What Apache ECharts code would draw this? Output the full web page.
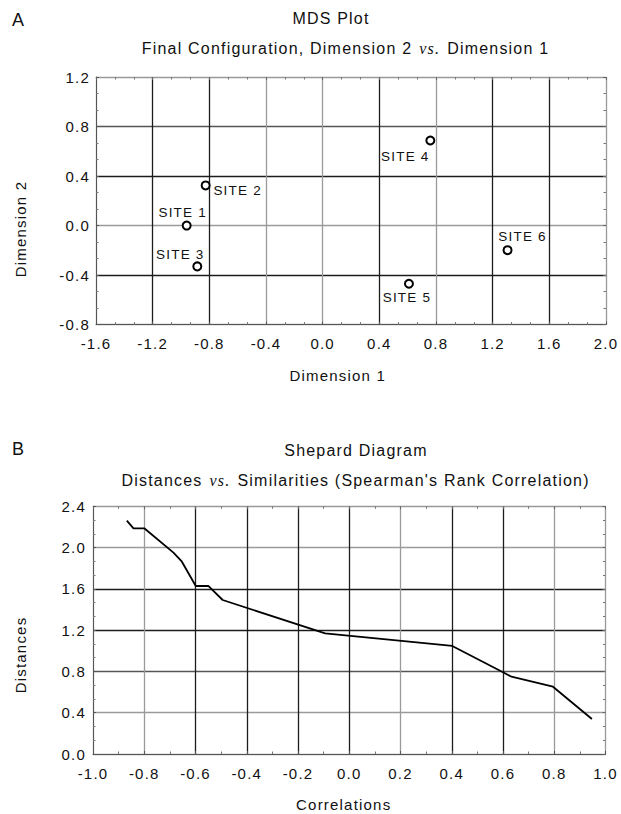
<!DOCTYPE html>
<html>
<head>
<meta charset="utf-8">
<script src="https://cdn.jsdelivr.net/npm/echarts@6/dist/echarts.min.js"></script>
<style>
html,body{margin:0;padding:0;background:#fff;}
#chart{width:621px;height:814px;letter-spacing:1.2px;}
</style>
</head>
<body>
<div id="chart"></div>
<script>
// ---------- Panel A: MDS plot (final configuration) ----------
const siteNames = ['SITE 1', 'SITE 2', 'SITE 3', 'SITE 4', 'SITE 5', 'SITE 6'];
const dimension1 = [-0.96, -0.826, -0.885, 0.76, 0.609, 1.305];
const dimension2 = [0.0, 0.324, -0.33, 0.687, -0.47, -0.199];
const dim1Ticks = [-1.6, -1.2, -0.8, -0.4, 0.0, 0.4, 0.8, 1.2, 1.6, 2.0];
const dim2Ticks = [-0.8, -0.4, 0.0, 0.4, 0.8, 1.2];

// ---------- Panel B: Shepard diagram ----------
const correlations = [-0.868, -0.842, -0.800, -0.686, -0.653, -0.599, -0.550, -0.494, -0.094, 0.402, 0.600, 0.633, 0.795, 0.947];
const distances    = [2.261, 2.187, 2.187, 1.951, 1.863, 1.628, 1.628, 1.492, 1.169, 1.047, 0.792, 0.749, 0.652, 0.339];
const corrTicks = [-1.0, -0.8, -0.6, -0.4, -0.2, 0.0, 0.2, 0.4, 0.6, 0.8, 1.0];
const distTicks = [0.0, 0.4, 0.8, 1.2, 1.6, 2.0, 2.4];

// ---------- styling ----------
const FONT = '"Liberation Sans", Arial, Helvetica, sans-serif';
const SERIF = '"Liberation Serif", "Times New Roman", serif';
const INK = '#111';
const LS = 1.2; // letter spacing set in CSS
const D = '#1c1c1c', G = '#9a9a9a', M = '#555';

const labelOffsets = [[-4, -13], [32, 5], [-17, -12], [-25, 16], [-2, 14], [15, -14]];

function range(t) {
  return { min: t[0], max: t[t.length - 1], interval: +(t[1] - t[0]).toFixed(6) };
}
const fmt = v => (Math.abs(v) < 1e-9 ? 0 : v).toFixed(1);

function mainAxis(kind, gridIndex, ticks, colors, minorSplit, margin) {
  const a = Object.assign({
    type: 'value', gridIndex: gridIndex,
    position: kind === 'x' ? 'bottom' : 'left',
    axisLine: { show: true, onZero: false, lineStyle: { color: '#555', width: 1 } },
    axisTick: { show: true, inside: true, length: 3, lineStyle: { color: '#555' } },
    minorTick: { show: true, splitNumber: minorSplit, length: 2.5, lineStyle: { color: '#777' } },
    axisLabel: { show: true, margin: margin, formatter: fmt, color: INK, fontSize: 15, fontFamily: FONT,
                 showMinLabel: true, showMaxLabel: true },
    splitLine: { show: true, lineStyle: { color: colors, width: 1.3 } }
  }, range(ticks));
  return a;
}
function edgeAxis(kind, gridIndex, ticks, minorSplit) {
  return Object.assign({
    type: 'value', gridIndex: gridIndex,
    position: kind === 'x' ? 'top' : 'right',
    axisLine: { show: true, onZero: false, lineStyle: { color: '#999', width: 1, type: 'dotted' } },
    axisTick: { show: true, inside: true, length: 3, lineStyle: { color: '#666' } },
    minorTick: { show: true, splitNumber: minorSplit, length: 2.5, lineStyle: { color: '#777' } },
    axisLabel: { show: false },
    splitLine: { show: false }
  }, range(ticks));
}

// text measurement for the mixed-font subtitles
const mctx = document.createElement('canvas').getContext('2d');
function textW(t, font) { mctx.font = font; return mctx.measureText(t).width + t.length * LS; }

function txt(x, y, text, opts) {
  opts = opts || {};
  return {
    type: 'text', x: x, y: y, rotation: opts.rotation || 0, silent: true,
    style: {
      text: text, fill: INK,
      fontSize: opts.size || 15, fontFamily: opts.family || FONT,
      fontStyle: opts.style || 'normal', fontWeight: opts.weight || 'normal',
      textAlign: opts.align || 'center', textVerticalAlign: 'middle'
    }
  };
}
function mixedLine(cx, y, parts, size) {
  const gap = 7;
  const fonts = parts.map(p => (p[1] ? 'italic ' : '') + size + 'px ' + (p[1] ? SERIF : FONT));
  const widths = parts.map((p, i) => textW(p[0], fonts[i]));
  const total = widths.reduce((s, w) => s + w, 0) + gap * (parts.length - 1);
  let x = cx - total / 2;
  return parts.map((p, i) => {
    const el = txt(x, y, p[0], { size: size, align: 'left', family: p[1] ? SERIF : FONT, style: p[1] ? 'italic' : 'normal' });
    x += widths[i] + gap;
    return el;
  });
}

const graphics = [
  txt(12, 20, 'A', { size: 18, align: 'left' }),
  txt(331, 18.7, 'MDS Plot', { size: 16 }),
  ...mixedLine(345.5, 48.3, [['Final Configuration, Dimension 2', false], ['vs.', true], ['Dimension 1', false]], 16),
  txt(337.7, 375.5, 'Dimension 1', { size: 15 }),
  txt(20, 229, 'Dimension 2', { size: 15, rotation: Math.PI / 2 }),
  txt(12, 449, 'B', { size: 18, align: 'left' }),
  txt(356, 450, 'Shepard Diagram', { size: 16 }),
  ...mixedLine(355.6, 480.5, [['Distances', false], ['vs.', true], ["Similarities (Spearman's Rank Correlation)", false]], 16),
  txt(343.7, 804, 'Correlations', { size: 15 }),
  txt(20, 655, 'Distances', { size: 15, rotation: Math.PI / 2 })
];

const option = {
  animation: false,
  backgroundColor: '#fff',
  grid: [
    { left: 96, top: 77, width: 510, height: 247.6, containLabel: false },
    { left: 93, top: 506.3, width: 512.5, height: 247.7, containLabel: false }
  ],
  xAxis: [
    mainAxis('x', 0, dim1Ticks, [G, D, D, G, G, D, G, D, D, G], 3, 11),
    edgeAxis('x', 0, dim1Ticks, 3),
    mainAxis('x', 1, corrTicks, [G, G, D, D, D, D, G, D, D, G, G], 2, 12),
    edgeAxis('x', 1, corrTicks, 2)
  ],
  yAxis: [
    mainAxis('y', 0, dim2Ticks, [G, D, G, D, M, G], 3, 6),
    edgeAxis('y', 0, dim2Ticks, 3),
    mainAxis('y', 1, distTicks, [G, G, M, D, D, G, G], 3, 7),
    edgeAxis('y', 1, distTicks, 3)
  ],
  graphic: graphics,
  series: [
    {
      type: 'scatter', xAxisIndex: 0, yAxisIndex: 0,
      symbol: 'circle', symbolSize: 8,
      itemStyle: { color: '#fff', borderColor: '#000', borderWidth: 2, opacity: 1 },
      label: {
        show: true, position: 'inside', formatter: '{b}', color: INK,
        fontSize: 13.5, fontFamily: FONT, align: 'center', verticalAlign: 'middle'
      },
      emphasis: { disabled: true },
      data: dimension1.map((x, i) => ({
        name: siteNames[i], value: [x, dimension2[i]],
        label: { offset: labelOffsets[i] }
      })),
      z: 5
    },
    {
      type: 'line', xAxisIndex: 2, yAxisIndex: 2,
      symbol: 'none', showSymbol: false,
      lineStyle: { color: '#000', width: 1.8 },
      emphasis: { disabled: true },
      data: correlations.map((c, i) => [c, distances[i]]),
      z: 5
    }
  ]
};

const chart = echarts.init(document.getElementById('chart'), null, { renderer: 'svg', width: 621, height: 814 });
chart.setOption(option);
</script>
</body>
</html>
